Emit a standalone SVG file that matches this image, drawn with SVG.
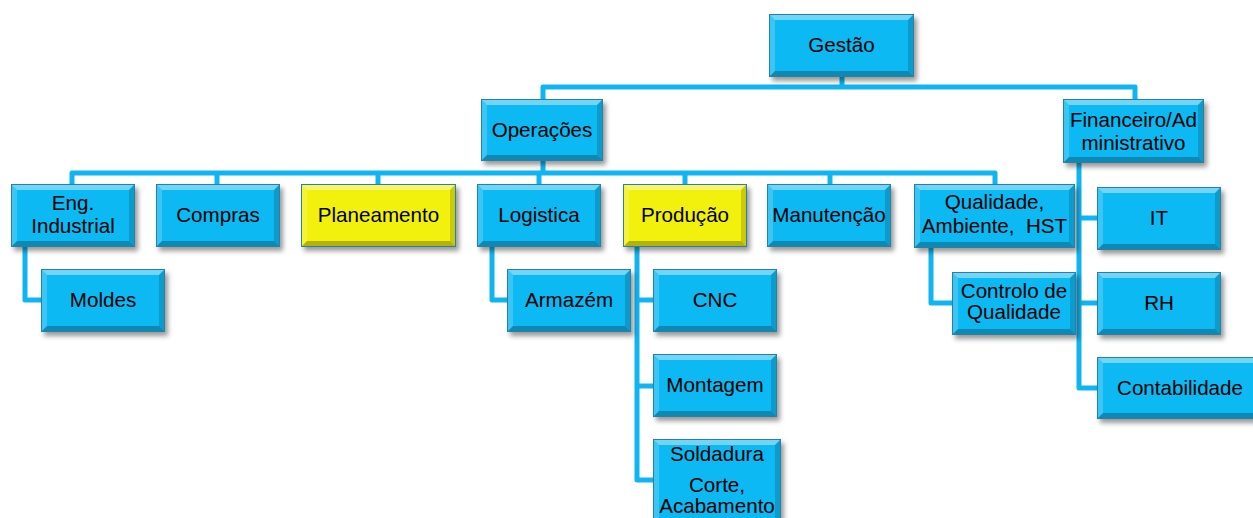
<svg xmlns="http://www.w3.org/2000/svg" xmlns:xlink="http://www.w3.org/1999/xlink" width="1253" height="518" viewBox="0 0 1253 518">
  <style>
    .lnk { fill: none; stroke: #0FB5F0; stroke-width: 5; stroke-linejoin: round; stroke-linecap: butt; }
    .lbl { font-family: "Liberation Sans", Arial, sans-serif; font-size: 20.6px; fill: #000; text-anchor: middle; }
    .bt { fill: #ffffff; fill-opacity: 0.4; }
    .bl { fill: #ffffff; fill-opacity: 0.18; }
    .br { fill: #000000; fill-opacity: 0.16; }
    .bb { fill: #000000; fill-opacity: 0.26; }
    .edge { fill: none; stroke: #2A7FA3; stroke-width: 1; }
    .blue { fill: #10B9F2; }
    .yellow { fill: #F1F10C; }
  </style>
  <defs>
    <filter id="shadow" x="-10%" y="-10%" width="130%" height="140%">
      <feDropShadow dx="3" dy="4" stdDeviation="2.5" flood-color="#000" flood-opacity="0.4"/>
    </filter>
    <!-- bevelled box shapes; face colour comes from the <use> element -->
    <g id="box-124x63">
      <rect width="124" height="63"/>
      <path class="bt" d="M0,0 H124 L118,6 H6 Z"/>
      <path class="bl" d="M0,0 L6,6 V57 L0,63 Z"/>
      <path class="br" d="M124,0 V63 L118,57 V6 Z"/>
      <path class="bb" d="M0,63 H124 L118,57 H6 Z"/>
      <rect class="edge" x="0.5" y="0.5" width="123" height="62"/>
    </g>
    <g id="box-145x63">
      <rect width="145" height="63"/>
      <path class="bt" d="M0,0 H145 L139,6 H6 Z"/>
      <path class="bl" d="M0,0 L6,6 V57 L0,63 Z"/>
      <path class="br" d="M145,0 V63 L139,57 V6 Z"/>
      <path class="bb" d="M0,63 H145 L139,57 H6 Z"/>
      <rect class="edge" x="0.5" y="0.5" width="144" height="62"/>
    </g>
    <g id="box-122x62">
      <rect width="122" height="62"/>
      <path class="bt" d="M0,0 H122 L116,6 H6 Z"/>
      <path class="bl" d="M0,0 L6,6 V56 L0,62 Z"/>
      <path class="br" d="M122,0 V62 L116,56 V6 Z"/>
      <path class="bb" d="M0,62 H122 L116,56 H6 Z"/>
      <rect class="edge" x="0.5" y="0.5" width="121" height="61"/>
    </g>
    <g id="box-141x64">
      <rect width="141" height="64"/>
      <path class="bt" d="M0,0 H141 L135,6 H6 Z"/>
      <path class="bl" d="M0,0 L6,6 V58 L0,64 Z"/>
      <path class="br" d="M141,0 V64 L135,58 V6 Z"/>
      <path class="bb" d="M0,64 H141 L135,58 H6 Z"/>
      <rect class="edge" x="0.5" y="0.5" width="140" height="63"/>
    </g>
    <g id="box-155x63">
      <rect width="155" height="63"/>
      <path class="bt" d="M0,0 H155 L149,6 H6 Z"/>
      <path class="bl" d="M0,0 L6,6 V57 L0,63 Z"/>
      <path class="br" d="M155,0 V63 L149,57 V6 Z"/>
      <path class="bb" d="M0,63 H155 L149,57 H6 Z"/>
      <rect class="edge" x="0.5" y="0.5" width="154" height="62"/>
    </g>
    <g id="box-161x64">
      <rect width="161" height="64"/>
      <path class="bt" d="M0,0 H161 L155,6 H6 Z"/>
      <path class="bl" d="M0,0 L6,6 V58 L0,64 Z"/>
      <path class="br" d="M161,0 V64 L155,58 V6 Z"/>
      <path class="bb" d="M0,64 H161 L155,58 H6 Z"/>
      <rect class="edge" x="0.5" y="0.5" width="160" height="63"/>
    </g>
    <g id="box-128x86">
      <rect width="128" height="86"/>
      <path class="bt" d="M0,0 H128 L122,6 H6 Z"/>
      <path class="bl" d="M0,0 L6,6 V80 L0,86 Z"/>
      <path class="br" d="M128,0 V86 L122,80 V6 Z"/>
      <path class="bb" d="M0,86 H128 L122,80 H6 Z"/>
      <rect class="edge" x="0.5" y="0.5" width="127" height="85"/>
    </g>
    <g id="box-165x62">
      <rect width="165" height="62"/>
      <path class="bt" d="M0,0 H165 L159,6 H6 Z"/>
      <path class="bl" d="M0,0 L6,6 V56 L0,62 Z"/>
      <path class="br" d="M165,0 V62 L159,56 V6 Z"/>
      <path class="bb" d="M0,62 H165 L159,56 H6 Z"/>
      <rect class="edge" x="0.5" y="0.5" width="164" height="61"/>
    </g>
  </defs>

  <rect width="1253" height="518" fill="#ffffff"/>

  <!-- connectors -->
  <g id="connectors">
    <path class="lnk" d="M842,77 V87"/>
    <path class="lnk" d="M543,99 V87 H1135 V99"/>
    <path class="lnk" d="M543,161 V173"/>
    <path class="lnk" d="M72,184 V173 H995 V184"/>
    <path class="lnk" d="M217,173 V184"/>
    <path class="lnk" d="M378,173 V184"/>
    <path class="lnk" d="M539,173 V184"/>
    <path class="lnk" d="M685,173 V184"/>
    <path class="lnk" d="M830,173 V184"/>
    <path class="lnk" d="M25,247 V300 H41"/>
    <path class="lnk" d="M492,247 V300 H507"/>
    <path class="lnk" d="M637,247 V480 H653"/>
    <path class="lnk" d="M637,300 H653"/>
    <path class="lnk" d="M637,386 H653"/>
    <path class="lnk" d="M931,248 V303 H952"/>
    <path class="lnk" d="M1079,163 V388 H1097"/>
    <path class="lnk" d="M1079,218 H1097"/>
    <path class="lnk" d="M1079,303 H1097"/>
  </g>

  <!-- nodes -->
  <g id="n-gestao">
    <use href="#box-145x63" x="769" y="14" class="blue" filter="url(#shadow)"/>
    <text class="lbl" x="841.5" y="52">Gestão</text>
  </g>
  <g id="n-operacoes">
    <use href="#box-122x62" x="481" y="99" class="blue" filter="url(#shadow)"/>
    <text class="lbl" x="542" y="137">Operações</text>
  </g>
  <g id="n-financeiro">
    <use href="#box-141x64" x="1063" y="99" class="blue" filter="url(#shadow)"/>
    <text class="lbl" x="1133.5" y="127">Financeiro/Ad</text>
    <text class="lbl" x="1133.5" y="150">ministrativo</text>
  </g>
  <g id="n-eng">
    <use href="#box-124x63" x="11" y="184" class="blue" filter="url(#shadow)"/>
    <text class="lbl" x="73" y="210">Eng.</text>
    <text class="lbl" x="73" y="233">Industrial</text>
  </g>
  <g id="n-compras">
    <use href="#box-124x63" x="156" y="184" class="blue" filter="url(#shadow)"/>
    <text class="lbl" x="218" y="222">Compras</text>
  </g>
  <g id="n-planeamento">
    <use href="#box-155x63" x="301" y="184" class="yellow" filter="url(#shadow)"/>
    <text class="lbl" x="378.5" y="222">Planeamento</text>
  </g>
  <g id="n-logistica">
    <use href="#box-124x63" x="477" y="184" class="blue" filter="url(#shadow)"/>
    <text class="lbl" x="539" y="222">Logistica</text>
  </g>
  <g id="n-producao">
    <use href="#box-124x63" x="623" y="184" class="yellow" filter="url(#shadow)"/>
    <text class="lbl" x="685" y="222">Produção</text>
  </g>
  <g id="n-manutencao">
    <use href="#box-124x63" x="767" y="184" class="blue" filter="url(#shadow)"/>
    <text class="lbl" x="829" y="222">Manutenção</text>
  </g>
  <g id="n-qualidade">
    <use href="#box-161x64" x="914" y="184" class="blue" filter="url(#shadow)"/>
    <text class="lbl" x="994.5" y="209">Qualidade,</text>
    <text class="lbl" x="994.5" y="233" xml:space="preserve">Ambiente,  HST</text>
  </g>
  <g id="n-moldes">
    <use href="#box-124x63" x="41" y="269" class="blue" filter="url(#shadow)"/>
    <text class="lbl" x="103" y="307">Moldes</text>
  </g>
  <g id="n-armazem">
    <use href="#box-124x63" x="507" y="269" class="blue" filter="url(#shadow)"/>
    <text class="lbl" x="569" y="307">Armazém</text>
  </g>
  <g id="n-cnc">
    <use href="#box-124x63" x="653" y="269" class="blue" filter="url(#shadow)"/>
    <text class="lbl" x="715" y="307">CNC</text>
  </g>
  <g id="n-montagem">
    <use href="#box-124x63" x="653" y="354" class="blue" filter="url(#shadow)"/>
    <text class="lbl" x="715" y="392">Montagem</text>
  </g>
  <g id="n-soldadura">
    <use href="#box-128x86" x="653" y="439" class="blue" filter="url(#shadow)"/>
    <text class="lbl" x="717" y="461">Soldadura</text>
    <text class="lbl" x="717" y="492">Corte,</text>
    <text class="lbl" x="717" y="513">Acabamento</text>
  </g>
  <g id="n-controlo">
    <use href="#box-124x63" x="952" y="272" class="blue" filter="url(#shadow)"/>
    <text class="lbl" x="1014" y="298">Controlo de</text>
    <text class="lbl" x="1014" y="319">Qualidade</text>
  </g>
  <g id="n-it">
    <use href="#box-124x63" x="1097" y="187" class="blue" filter="url(#shadow)"/>
    <text class="lbl" x="1159" y="225">IT</text>
  </g>
  <g id="n-rh">
    <use href="#box-124x63" x="1097" y="272" class="blue" filter="url(#shadow)"/>
    <text class="lbl" x="1159" y="310">RH</text>
  </g>
  <g id="n-contabilidade">
    <use href="#box-165x62" x="1097" y="357" class="blue" filter="url(#shadow)"/>
    <text class="lbl" x="1180" y="395">Contabilidade</text>
  </g>
</svg>
